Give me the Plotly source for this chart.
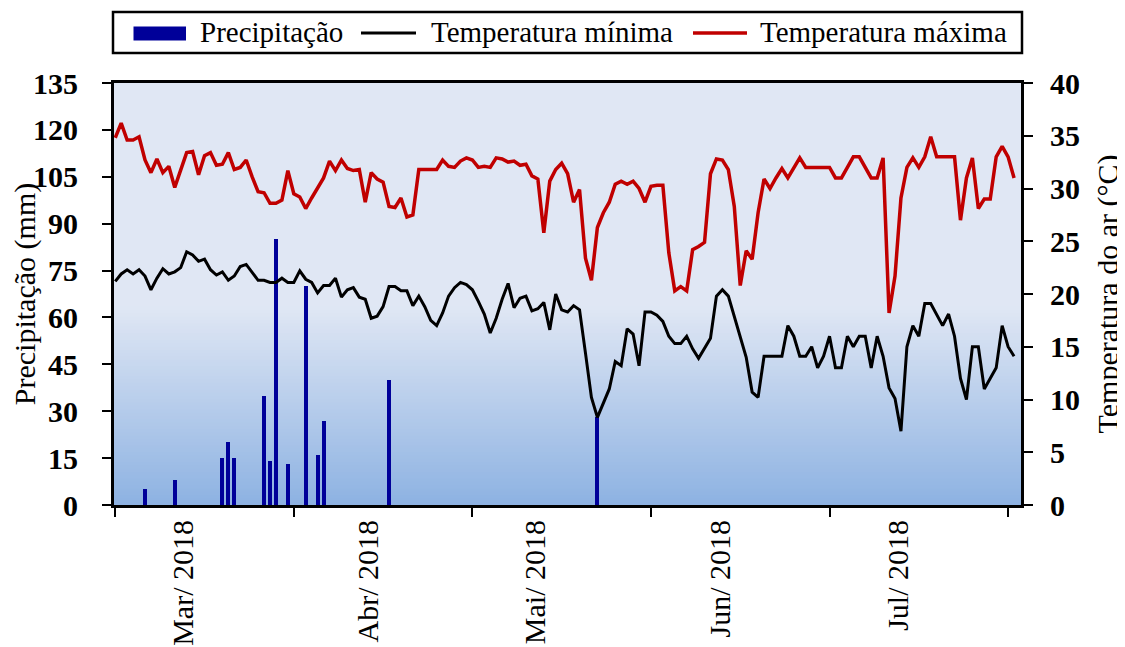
import pandas as pd
import plotly.graph_objects as go

# ---------------- data ----------------
start_date = "2018-03-01"

t_max = [34.8, 36.2, 34.6, 34.6, 34.9, 32.7, 31.5, 32.8, 31.5, 32.1,
         30.1, 31.7, 33.4, 33.5, 31.3, 33.1, 33.4, 32.2, 32.3, 33.4,
         31.8, 32.0, 32.7, 31.1, 29.7, 29.6, 28.6, 28.6, 28.9, 31.7,
         29.5, 29.2, 28.1, 29.1, 30.0, 31.0, 32.6, 31.7, 32.7, 31.9,
         31.7, 31.8, 28.7, 31.5, 30.9, 30.6, 28.3, 28.2, 29.1, 27.3,
         27.5, 31.8, 31.8, 31.8, 31.8, 32.7, 32.1, 32.0, 32.6, 32.9,
         32.7, 32.0, 32.1, 32.0, 32.9, 32.8, 32.5, 32.6, 32.2, 32.3,
         31.2, 30.9, 25.8, 30.7, 31.8, 32.4, 31.4, 28.7, 29.9, 23.4,
         21.3, 26.3, 27.7, 28.7, 30.4, 30.7, 30.4, 30.7, 30.0, 28.7,
         30.2, 30.3, 30.3, 23.9, 20.3, 20.7, 20.3, 24.2, 24.5, 24.9,
         31.4, 32.8, 32.7, 31.8, 28.3, 20.8, 24.1, 23.3, 27.7, 30.9,
         30.0, 31.0, 31.9, 31.0, 32.0, 32.9, 32.0, 32.0, 32.0, 32.0,
         32.0, 31.0, 31.0, 32.0, 33.0, 33.0, 32.0, 31.0, 31.0, 32.9,
         18.2, 21.7, 29.1, 32.0, 32.9, 32.0, 33.0, 34.9, 33.0, 33.0,
         33.0, 33.0, 27.0, 31.0, 32.9, 28.1, 29.0, 29.0, 33.0, 34.0,
         33.0, 31.0]

t_min = [21.2, 21.9, 22.3, 21.9, 22.3, 21.7, 20.4, 21.5, 22.4, 21.9,
         22.1, 22.5, 24.0, 23.7, 23.1, 23.3, 22.3, 21.8, 22.1, 21.3,
         21.7, 22.6, 22.8, 22.0, 21.3, 21.3, 21.1, 21.1, 21.5, 21.1,
         21.1, 22.2, 21.4, 21.1, 20.1, 20.8, 20.8, 21.5, 19.7, 20.4,
         20.6, 19.7, 19.5, 17.7, 17.9, 18.8, 20.7, 20.7, 20.3, 20.3,
         18.9, 19.8, 18.8, 17.5, 17.0, 18.2, 19.8, 20.6, 21.1, 20.9,
         20.4, 19.3, 18.1, 16.3, 17.7, 19.5, 21.0, 18.7, 19.6, 19.8,
         18.4, 18.6, 19.2, 16.6, 20.0, 18.5, 18.3, 18.9, 18.5, 14.4,
         10.2, 8.3, 9.6, 11.0, 13.6, 13.2, 16.7, 16.2, 13.2, 18.3,
         18.3, 18.0, 17.4, 16.0, 15.3, 15.3, 16.0, 14.8, 13.9, 14.8,
         15.8, 19.8, 20.4, 19.8, 17.9, 16.0, 14.0, 10.7, 10.2, 14.1,
         14.1, 14.1, 14.1, 17.0, 16.0, 14.1, 14.1, 15.0, 13.0, 14.1,
         16.0, 13.0, 13.0, 16.0, 15.0, 16.0, 16.0, 13.0, 16.0, 14.1,
         11.1, 10.1, 7.0, 15.0, 17.0, 16.0, 19.1, 19.1, 18.1, 17.0,
         18.1, 16.0, 12.0, 10.0, 15.0, 15.0, 11.0, 12.0, 13.0, 17.0,
         15.0, 14.1]

rain_dates = ["2018-03-06", "2018-03-11", "2018-03-19", "2018-03-20",
              "2018-03-21", "2018-03-26", "2018-03-27", "2018-03-28",
              "2018-03-30", "2018-04-02", "2018-04-04", "2018-04-05",
              "2018-04-16", "2018-05-21"]
rain_mm = [5, 8, 15, 20, 15, 35, 14, 85, 13, 70, 16, 27, 40, 28]

month_labels = ["Mar/ 2018", "Abr/ 2018", "Mai/ 2018", "Jun/ 2018", "Jul/ 2018"]
month_label_dates = ["2018-03-12 10:00", "2018-04-12 11:00", "2018-05-10 12:00",
                     "2018-06-10 14:00", "2018-07-10 12:00"]
tick_dates = ["2018-03-01", "2018-03-31", "2018-04-30", "2018-05-30",
              "2018-06-29", "2018-07-29"]

left_ticks = list(range(0, 136, 15))
right_ticks = list(range(0, 41, 5))

series_names = ["Precipitação", "Temperatura mínima", "Temperatura máxima"]
series_colors = ["#000099", "black", "#C00000"]

# ---------------- layout geometry ----------------
# the html page has an 8 px body margin, so the figure is drawn 8 px smaller
PAGE_OFF = 8
W, H = 1125 - PAGE_OFF, 647 - PAGE_OFF
# plot area in page pixels
P_L, P_R, P_T, P_B = 114, 1021, 83, 505
ML, MT = P_L - PAGE_OFF, P_T - PAGE_OFF
MR = (PAGE_OFF + W) - P_R
MB = (PAGE_OFF + H) - P_B
PW, PH = P_R - P_L, P_B - P_T
SERIF = "Liberation Serif"


def px_x(px):
    return (px - P_L) / PW


def px_y(py):
    return (P_B - py) / PH


# ---------------- figure ----------------
days = pd.date_range(start_date, periods=len(t_max), freq="D")

fig = go.Figure()
fig.add_trace(go.Bar(
    x=pd.to_datetime(rain_dates), y=rain_mm, name=series_names[0],
    marker=dict(color=series_colors[0], line=dict(width=0)),
    width=0.68 * 86400000, yaxis="y", showlegend=False))
fig.add_trace(go.Scatter(
    x=days, y=t_min, name=series_names[1], mode="lines",
    line=dict(color=series_colors[1], width=3), yaxis="y2", showlegend=False))
fig.add_trace(go.Scatter(
    x=days, y=t_max, name=series_names[2], mode="lines",
    line=dict(color=series_colors[2], width=3.5), yaxis="y2", showlegend=False))

# background gradient (Excel-like): flat light top, blue gradient in lower part
top_rgb = (224, 231, 244)
bot_rgb = (141, 178, 226)
grad_top = 0.47
n_bands = 60
shapes = []
for i in range(n_bands):
    f0 = i / n_bands
    f1 = (i + 1) / n_bands
    t = (f0 + f1) / 2
    c = tuple(round(bot_rgb[k] + (top_rgb[k] - bot_rgb[k]) * t) for k in range(3))
    shapes.append(dict(type="rect", xref="paper", yref="paper", layer="below",
                       x0=0, x1=1, y0=f0 * grad_top, y1=f1 * grad_top + 0.002,
                       line=dict(width=0), fillcolor="rgb(%d,%d,%d)" % c))

# legend box drawn above the plot (Excel style)
leg_y = 33
shapes.append(dict(type="rect", xref="paper", yref="paper",
                   x0=px_x(113), x1=px_x(1022), y0=px_y(53), y1=px_y(12),
                   line=dict(color="black", width=2.5), fillcolor="white"))
shapes.append(dict(type="rect", xref="paper", yref="paper",
                   x0=px_x(133.5), x1=px_x(186), y0=px_y(40.5), y1=px_y(26.5),
                   line=dict(width=0), fillcolor=series_colors[0]))
shapes.append(dict(type="line", xref="paper", yref="paper",
                   x0=px_x(361), x1=px_x(416), y0=px_y(leg_y), y1=px_y(leg_y),
                   line=dict(color=series_colors[1], width=3)))
shapes.append(dict(type="line", xref="paper", yref="paper",
                   x0=px_x(693), x1=px_x(747), y0=px_y(leg_y), y1=px_y(leg_y),
                   line=dict(color=series_colors[2], width=3.5)))

annotations = []
for name, tx in zip(series_names, [198, 429, 758]):
    annotations.append(dict(text=name, xref="paper", yref="paper",
                            x=px_x(tx), y=px_y(32), xanchor="left", yanchor="middle",
                            showarrow=False,
                            font=dict(family=SERIF, size=29, color="black")))

fig.update_layout(
    width=W, height=H,
    margin=dict(l=ML, r=MR, t=MT, b=MB, autoexpand=False),
    paper_bgcolor="white",
    plot_bgcolor="rgb(%d,%d,%d)" % top_rgb,
    shapes=shapes,
    annotations=annotations,
    bargap=0,
    font=dict(family=SERIF, color="black", size=29),
    showlegend=False,
    xaxis=dict(
        type="date",
        range=["2018-02-28 19:00", "2018-07-31 04:00"],
        tickmode="array", tickvals=pd.to_datetime(month_label_dates), ticktext=month_labels,
        ticks="", tickangle=-90,
        tickfont=dict(family=SERIF, size=30, color="black"),
        minor=dict(tickmode="array", tickvals=pd.to_datetime(tick_dates), ticks="outside",
                   ticklen=9, tickwidth=1.5, tickcolor="black", showgrid=False),
        showgrid=False, zeroline=False,
        showline=True, linecolor="black", linewidth=3, mirror=True,
    ),
    yaxis=dict(
        range=[0, 135], tickmode="array", tickvals=left_ticks,
        ticks="outside", ticklen=9, tickwidth=1.5, tickcolor="black",
        ticklabelstandoff=18,
        tickfont=dict(family=SERIF, size=30, color="black", weight="bold"),
        showgrid=False, zeroline=False,
        showline=True, linecolor="black", linewidth=3, mirror=True,
        title=dict(text="Precipitação (mm)", font=dict(family=SERIF, size=30, color="black"),
                   standoff=2),
    ),
    yaxis2=dict(
        range=[0, 40], tickmode="array", tickvals=right_ticks,
        overlaying="y", side="right",
        ticks="outside", ticklen=9, tickwidth=1.5, tickcolor="black",
        ticklabelstandoff=11,
        tickfont=dict(family=SERIF, size=30, color="black", weight="bold"),
        showgrid=False, zeroline=False,
        showline=True, linecolor="black", linewidth=3,
        title=dict(text="Temperatura do ar (°C)", font=dict(family=SERIF, size=30, color="black"),
                   standoff=19),
    ),
)

fig.write_html("out.html")
